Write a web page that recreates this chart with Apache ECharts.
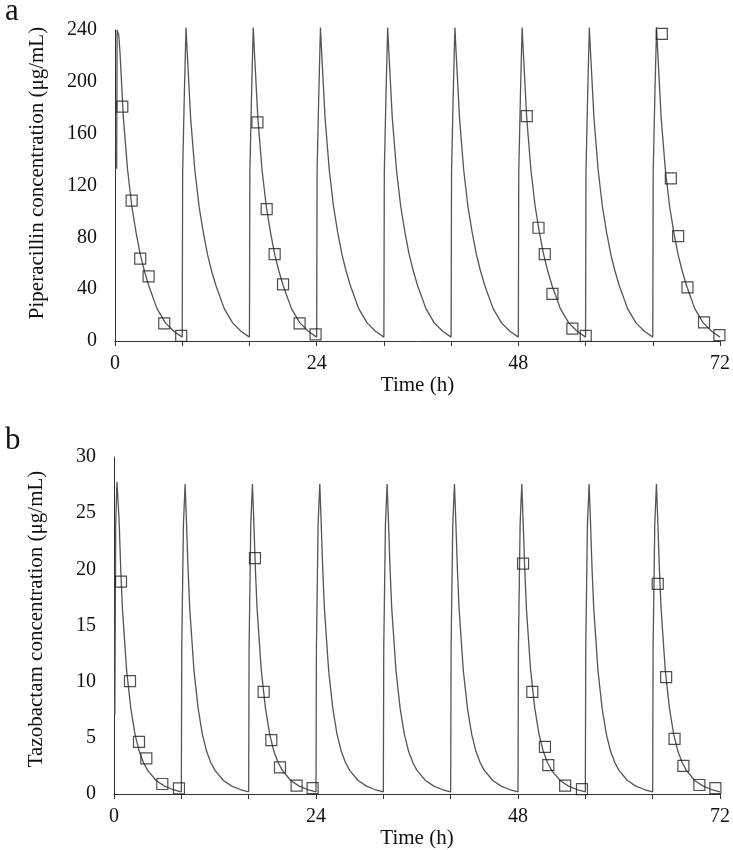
<!DOCTYPE html>
<html>
<head>
<meta charset="utf-8">
<script src="https://cdn.jsdelivr.net/npm/echarts@6/dist/echarts.min.js"></script>
<style>
html,body{margin:0;padding:0;background:#fff;}
#c{width:733px;height:850px;}
</style>
</head>
<body>
<div id="c"></div>
<script>
// ---- data ----
const doseTimes = [0, 8, 16, 24, 32, 40, 48, 56, 64];
const xTicks = [0, 24, 48, 72];

// model curve for one dosing interval (hours after dose, concentration)
const pipProfileT = [0, 0.05, 0.25, 0.45, 0.6, 1.0, 1.5, 2.0, 2.5, 3.0, 3.5, 4.0, 5.0, 6.0, 7.0, 8.0];
const pipProfileV = [3, 130, 190, 242, 222, 172, 132, 104, 84, 67, 54, 43, 25, 14, 7.5, 3];
const pipFirstT = [0.2, 0.25, 0.45];
const pipFirstV = [133, 240, 236];

const tazProfileT = [0, 0.05, 0.25, 0.45, 0.6, 0.8, 1.0, 1.5, 2.0, 2.5, 3.0, 3.5, 4.0, 5.0, 6.0, 7.0, 8.0];
const tazProfileV = [0.2, 13, 24, 27.6, 24.5, 20, 16.5, 11, 7.6, 5.3, 3.8, 2.8, 2.1, 1.2, 0.7, 0.4, 0.2];
const tazFirstT = [0.1, 0.2, 0.35];
const tazFirstV = [7, 24, 27.8];

// observed concentrations
const pipObsT = [0.87, 1.98, 3.0, 4.0, 5.86, 7.88, 16.95, 18.05, 19.0, 20.0, 21.97, 23.87, 49.0, 50.4, 51.15, 52.06, 54.43, 56.02, 65.08, 66.15, 67.02, 68.13, 70.1, 71.93];
const pipObsV = [180.8, 108.3, 63.5, 49.9, 13.6, 3.9, 168.7, 101.8, 67, 43.7, 13.6, 5.1, 173.6, 87.4, 67.1, 36.3, 9.5, 3.9, 237, 125.5, 81, 41.4, 14.4, 4.6];

const tazObsT = [0.83, 1.9, 2.97, 3.84, 5.74, 7.72, 16.75, 17.78, 18.69, 19.72, 21.7, 23.6, 48.6, 49.7, 51.2, 51.6, 53.6, 55.6, 64.6, 65.6, 66.6, 67.65, 69.55, 71.45];
const tazObsV = [18.9, 10.05, 4.64, 3.17, 0.89, 0.5, 21.0, 9.1, 4.8, 2.37, 0.74, 0.53, 20.5, 9.1, 4.2, 2.57, 0.74, 0.44, 18.7, 10.4, 4.9, 2.5, 0.8, 0.53];

const pipName = 'Piperacillin concentration (μg/mL)';
const tazName = 'Tazobactam concentration (μg/mL)';

function buildCurve(profT, profV, firstT, firstV) {
  const out = [];
  doseTimes.forEach(function (d, i) {
    if (i === 0) {
      firstT.forEach(function (t, j) { out.push([d + t, firstV[j]]); });
      profT.forEach(function (t, j) { if (t > 0.5) out.push([d + t, profV[j]]); });
    } else {
      profT.forEach(function (t, j) { out.push([d + t, profV[j]]); });
    }
  });
  return out;
}
function pairs(ts, vs) { return ts.map(function (t, i) { return [t, vs[i]]; }); }

const pipCurve = buildCurve(pipProfileT, pipProfileV, pipFirstT, pipFirstV);
const tazCurve = buildCurve(tazProfileT, tazProfileV, tazFirstT, tazFirstV);

const FONT = '"Liberation Serif", "DejaVu Serif", serif';
const axisCol = '#333';
const txtCol = '#111';

function xAxis(gi, gap) {
  return {
    type: 'value', gridIndex: gi, min: 0, max: 72, interval: 8,
    name: 'Time (h)', nameLocation: 'middle', nameGap: gap,
    nameTextStyle: { fontFamily: FONT, fontSize: 21, color: txtCol },
    axisLine: { lineStyle: { color: axisCol, width: 1 } },
    axisTick: { show: true, inside: false, length: 5, lineStyle: { color: axisCol } },
    splitLine: { show: false },
    axisLabel: {
      fontFamily: FONT, fontSize: 20, color: txtCol, margin: 13,
      formatter: function (v) { return xTicks.indexOf(v) >= 0 ? String(v) : ''; }
    }
  };
}
function yAxis(gi, max, interval) {
  return {
    type: 'value', gridIndex: gi, min: 0, max: max, interval: interval,
    axisLine: { show: true, lineStyle: { color: axisCol, width: 1 } },
    axisTick: { show: false },
    splitLine: { show: false },
    axisLabel: { fontFamily: FONT, fontSize: 20, color: txtCol, margin: 18 }
  };
}
const markerStyle = { color: 'rgba(255,255,255,0)', borderColor: '#222', borderWidth: 1.2 };

const chart = echarts.init(document.getElementById('c'), null, { renderer: 'canvas' });
chart.setOption({
  backgroundColor: '#fff',
  animation: false,
  title: [
    { text: 'a', left: 0, top: -9, textStyle: { fontFamily: FONT, fontSize: 31, fontWeight: 'normal', color: txtCol } },
    { text: 'b', left: 0, top: 420, textStyle: { fontFamily: FONT, fontSize: 31, fontWeight: 'normal', color: txtCol } }
  ],
  graphic: [
    { type: 'text', x: 37, y: 173, rotation: Math.PI / 2,
      style: { text: pipName, fontFamily: FONT, fontSize: 21, fill: txtCol, align: 'center', verticalAlign: 'middle' } },
    { type: 'text', x: 36, y: 619, rotation: Math.PI / 2,
      style: { text: tazName, fontFamily: FONT, fontSize: 21, fill: txtCol, align: 'center', verticalAlign: 'middle' } }
  ],
  grid: [
    { left: 115, right: 12, top: 30, height: 311 },
    { left: 114, right: 11, top: 457, height: 338 }
  ],
  xAxis: [xAxis(0, 32), xAxis(1, 34)],
  yAxis: [yAxis(0, 240, 40), yAxis(1, 30, 5)],
  series: [
    { type: 'line', xAxisIndex: 0, yAxisIndex: 0, data: pipCurve, showSymbol: false, clip: false,
      lineStyle: { color: '#555', width: 1.3 }, z: 2 },
    { type: 'scatter', xAxisIndex: 0, yAxisIndex: 0, data: pairs(pipObsT, pipObsV), symbol: 'rect', symbolSize: 11,
      itemStyle: markerStyle, z: 3 },
    { type: 'line', xAxisIndex: 1, yAxisIndex: 1, data: tazCurve, showSymbol: false, clip: false,
      lineStyle: { color: '#555', width: 1.3 }, z: 2 },
    { type: 'scatter', xAxisIndex: 1, yAxisIndex: 1, data: pairs(tazObsT, tazObsV), symbol: 'rect', symbolSize: 11,
      itemStyle: markerStyle, z: 3 }
  ]
});
</script>
</body>
</html>
